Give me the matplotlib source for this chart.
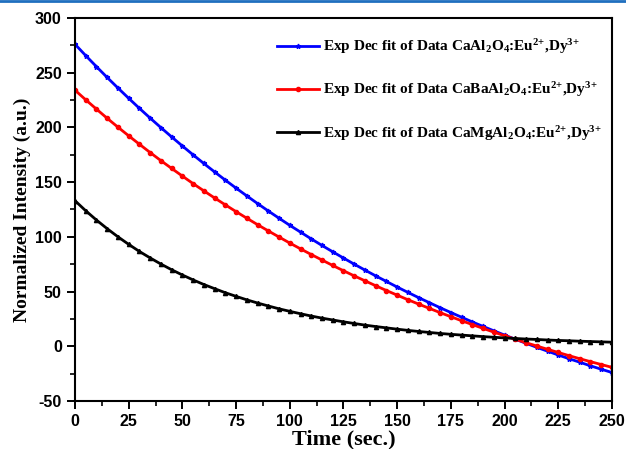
import matplotlib
matplotlib.use("Agg")
import matplotlib.pyplot as plt
from matplotlib.lines import Line2D
from matplotlib.ticker import MultipleLocator

plt.rcParams['mathtext.fontset'] = 'custom'
plt.rcParams['mathtext.rm'] = 'Liberation Serif:bold'
plt.rcParams['mathtext.it'] = 'Liberation Serif:bold'
plt.rcParams['mathtext.bf'] = 'Liberation Serif:bold'
plt.rcParams['axes.unicode_minus'] = False

# time axis (sec.)
time = [0, 5, 10, 15, 20, 25, 30, 35, 40, 45, 50, 55, 60, 65, 70, 75, 80, 85, 90, 95,
        100, 105, 110, 115, 120, 125, 130, 135, 140, 145, 150, 155, 160, 165, 170, 175,
        180, 185, 190, 195, 200, 205, 210, 215, 220, 225, 230, 235, 240, 245, 250]

# CaAl2O4:Eu2+,Dy3+
ca_al = [276.0, 265.6, 255.5, 245.6, 236.0, 226.6, 217.4, 208.5, 199.8, 191.3,
         183.0, 174.9, 167.0, 159.3, 151.8, 144.5, 137.4, 130.4, 123.6, 117.0,
         110.5, 104.3, 98.1, 92.1, 86.3, 80.6, 75.0, 69.6, 64.3, 59.2,
         54.1, 49.2, 44.4, 39.8, 35.2, 30.8, 26.5, 22.2, 18.1, 14.1,
         10.2, 6.4, 2.7, -1.0, -4.5, -8.0, -11.4, -14.6, -17.9, -21.0, -24.0]

# CaBaAl2O4:Eu2+,Dy3+
ca_ba = [234.0, 225.2, 216.7, 208.3, 200.2, 192.3, 184.6, 177.0, 169.6, 162.5,
         155.5, 148.6, 142.0, 135.5, 129.2, 123.0, 117.0, 111.1, 105.4, 99.8,
         94.3, 89.0, 83.8, 78.8, 73.8, 69.0, 64.3, 59.8, 55.3, 50.9,
         46.7, 42.5, 38.5, 34.6, 30.7, 27.0, 23.3, 19.8, 16.3, 12.9,
         9.6, 6.4, 3.2, 0.2, -2.8, -5.7, -8.6, -11.4, -14.1, -16.7, -19.3]

# CaMgAl2O4:Eu2+,Dy3+
ca_mg = [133.0, 123.8, 115.3, 107.4, 100.0, 93.1, 86.6, 80.7, 75.1, 69.9,
         65.1, 60.6, 56.4, 52.6, 48.9, 45.6, 42.4, 39.5, 36.8, 34.2,
         31.9, 29.7, 27.6, 25.7, 24.0, 22.3, 20.8, 19.3, 18.0, 16.8,
         15.6, 14.5, 13.5, 12.6, 11.7, 10.9, 10.2, 9.5, 8.8, 8.2,
         7.6, 7.1, 6.6, 6.2, 5.7, 5.3, 5.0, 4.6, 4.3, 4.0, 3.7]

labels = [
    'Exp Dec fit of Data CaAl$_2$O$_4$:Eu$^{2{+}}$,Dy$^{3{+}}$',
    'Exp Dec fit of Data CaBaAl$_2$O$_4$:Eu$^{2{+}}$,Dy$^{3{+}}$',
    'Exp Dec fit of Data CaMgAl$_2$O$_4$:Eu$^{2{+}}$,Dy$^{3{+}}$',
]

fig = plt.figure(figsize=(6.26, 4.49), dpi=100)
ax = fig.add_axes([0.1198, 0.107, 0.8578, 0.853])

ax.plot(time, ca_al, color='#0000ff', lw=2.0, marker='*', ms=3.5, label=labels[0])
ax.plot(time, ca_ba, color='#ff0000', lw=2.0, marker='o', ms=3, label=labels[1])
ax.plot(time, ca_mg, color='black', lw=2.0, marker='^', ms=3, label=labels[2])

ax.set_xlim(0, 250)
ax.set_ylim(-50, 300)
ax.xaxis.set_major_locator(MultipleLocator(25))
ax.xaxis.set_minor_locator(MultipleLocator(12.5))
ax.yaxis.set_major_locator(MultipleLocator(50))
ax.yaxis.set_minor_locator(MultipleLocator(25))

ax.tick_params(which='major', direction='out', length=6, width=1.4,
               top=False, right=False)
ax.tick_params(which='minor', direction='out', length=3.5, width=1.2,
               top=False, right=False)
for lab in ax.get_xticklabels() + ax.get_yticklabels():
    lab.set_family('Liberation Sans')
    lab.set_weight('bold')
    lab.set_size(11.5)
for s in ax.spines.values():
    s.set_linewidth(1.5)

ax.set_xlabel('Time (sec.)', family='Liberation Serif', weight='bold',
              size=16, labelpad=0)
ax.set_ylabel('Normalized Intensity (a.u.)', family='Liberation Serif',
              weight='bold', size=14, labelpad=3)

leg = ax.legend(loc='upper right', bbox_to_anchor=(1.0, 0.978), frameon=False,
                numpoints=1, handlelength=2.8, handletextpad=0.2,
                labelspacing=1.6, borderaxespad=0.3,
                prop={'family': 'Liberation Serif', 'weight': 'bold', 'size': 11})

# thin blue rule along the top edge of the image
fig.add_artist(Line2D([0, 1], [0.998, 0.998], transform=fig.transFigure,
                      color='#1f6fbf', lw=2))

fig.savefig('out.png', dpi=100)
